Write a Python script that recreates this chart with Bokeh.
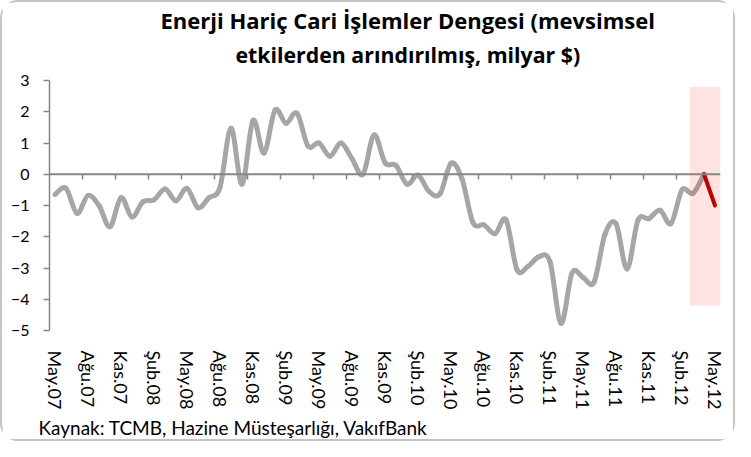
from bokeh.plotting import figure
from bokeh.models import Range1d, FixedTicker, Span, Title, ColumnDataSource
from bokeh.embed import file_html
from bokeh.resources import INLINE

# ---- data (monthly, May.07 .. May.12, milyar $) ----
values = [-0.65, -0.45, -1.25, -0.68, -1.00, -1.68, -0.75, -1.37, -0.88, -0.82,
          -0.47, -0.85, -0.45, -1.07, -0.75, -0.42, 1.47, -0.32, 1.72, 0.68,
          2.05, 1.63, 1.95, 0.90, 1.00, 0.58, 1.00, 0.50, 0.00, 1.26,
          0.37, 0.28, -0.32, -0.03, -0.55, -0.63, 0.35, -0.15, -1.55, -1.62,
          -1.90, -1.46, -3.05, -2.95, -2.64, -2.80, -4.77, -3.16, -3.30, -3.45,
          -1.92, -1.58, -3.03, -1.47, -1.42, -1.15, -1.58, -0.50, -0.61, 0.00,
          -1.00]
n_gray = 60          # first 60 months drawn gray, last step red
tick_labels = ["May.07", "Ağu.07", "Kas.07", "Şub.08", "May.08", "Ağu.08", "Kas.08",
               "Şub.09", "May.09", "Ağu.09", "Kas.09", "Şub.10", "May.10", "Ağu.10",
               "Kas.10", "Şub.11", "May.11", "Ağu.11", "Kas.11", "Şub.12", "May.12"]
y_ticks = [-5, -4, -3, -2, -1, 0, 1, 2, 3]
highlight = dict(left=58.2, right=61, bottom=-4.2, top=2.8)
title_lines = ["Enerji Hariç Cari İşlemler Dengesi (mevsimsel",
               "etkilerden arındırılmış, milyar $)"]
source_text = "Kaynak: TCMB, Hazine Müsteşarlığı, VakıfBank"

FONT = "Lato"
TITLE_FONT = "Open Sans"
n = len(values)
xs = [i + 0.5 for i in range(n)]

p = figure(frame_width=671, frame_height=250, min_border_left=47, min_border_right=13,
           min_border_top=78, min_border_bottom=109, title=None,
           x_range=Range1d(0, n), y_range=Range1d(-5, 3),
           output_backend="svg", toolbar_location=None, tools="")
p.styles = {"border": "2px solid #c4c4c4", "border-radius": "18px"}
p.outline_line_color = None
p.grid.visible = False
p.background_fill_color = "white"
p.border_fill_color = "white"

# smoothed gray line (Bezier segments through data points, Excel-style smoothing)
gx = xs[:n_gray]
gy = values[:n_gray]
seg = dict(x0=[], y0=[], x1=[], y1=[], cx0=[], cy0=[], cx1=[], cy1=[])
for i in range(len(gx) - 1):
    ym1 = gy[i - 1] if i > 0 else gy[i]
    yp2 = gy[i + 2] if i + 2 < len(gy) else gy[i + 1]
    xm1 = gx[i - 1] if i > 0 else gx[i]
    xp2 = gx[i + 2] if i + 2 < len(gx) else gx[i + 1]
    seg["x0"].append(gx[i]); seg["y0"].append(gy[i])
    seg["x1"].append(gx[i + 1]); seg["y1"].append(gy[i + 1])
    seg["cx0"].append(gx[i] + (gx[i + 1] - xm1) / 6)
    seg["cy0"].append(gy[i] + (gy[i + 1] - ym1) / 6)
    seg["cx1"].append(gx[i + 1] - (xp2 - gx[i]) / 6)
    seg["cy1"].append(gy[i + 1] - (yp2 - gy[i]) / 6)
p.bezier(x0="x0", y0="y0", x1="x1", y1="y1", cx0="cx0", cy0="cy0", cx1="cx1", cy1="cy1",
         source=ColumnDataSource(seg), line_color="#a6a6a6", line_width=5, line_cap="round")

# highlight box
p.quad(left=[highlight["left"]], right=[highlight["right"]], bottom=[highlight["bottom"]],
       top=[highlight["top"]], fill_color="#ff0000", fill_alpha=0.11, line_color=None)

# red last step
p.line(xs[n_gray - 1:], values[n_gray - 1:], line_color="#c00000", line_width=4, line_cap="round")

# zero axis line with tick marks
p.add_layout(Span(location=0, dimension="width", line_color="#868686", line_width=2))
tick_x = [float(k) for k in range(3, n - 3, 3)]
p.segment(x0=tick_x, y0=[0] * len(tick_x), x1=tick_x, y1=[-0.17] * len(tick_x),
          line_color="#868686", line_width=1.5)

# y axis
ya = p.yaxis[0]
ya.ticker = FixedTicker(ticks=y_ticks)
ya.axis_line_color = "#868686"
ya.axis_line_width = 1.5
ya.major_tick_line_color = "#868686"
ya.major_tick_line_width = 1.5
ya.major_tick_out = 6
ya.major_tick_in = 0
ya.minor_tick_line_color = None
ya.major_label_standoff = 14
ya.major_label_text_font = FONT
ya.major_label_text_font_size = "16px"
ya.major_label_text_color = "black"

# x axis (labels only, at bottom)
xa = p.xaxis[0]
label_pos = [xs[i] for i in range(0, n, 3)]
xa.ticker = FixedTicker(ticks=label_pos)
xa.major_label_overrides = {pos: lab for pos, lab in zip(label_pos, tick_labels)}
xa.major_label_orientation = "vertical"
xa.axis_line_color = None
xa.major_tick_line_color = None
xa.minor_tick_line_color = None
xa.major_label_standoff = 14
xa.major_label_text_font = FONT
xa.major_label_text_font_size = "18px"
xa.major_label_text_color = "black"

# title (two lines) and source note
title_offsets = [111, 186]
title_standoffs = [-16, 23]
title_sizes = ["22px", "21.3px"]
for line, off, so, fs in reversed(list(zip(title_lines, title_offsets, title_standoffs, title_sizes))):
    p.add_layout(Title(text=line, align="left", offset=off, standoff=so, text_font=TITLE_FONT,
                       text_font_style="bold", text_font_size=fs, text_line_height=0.9,
                       text_color="black"),
                 "above")
p.add_layout(Title(text=source_text, align="left", offset=-11, standoff=2, text_font=FONT,
                   text_font_style="normal", text_font_size="19px", text_color="black"),
             "below")

open("out.html", "w").write(file_html(p, INLINE))
